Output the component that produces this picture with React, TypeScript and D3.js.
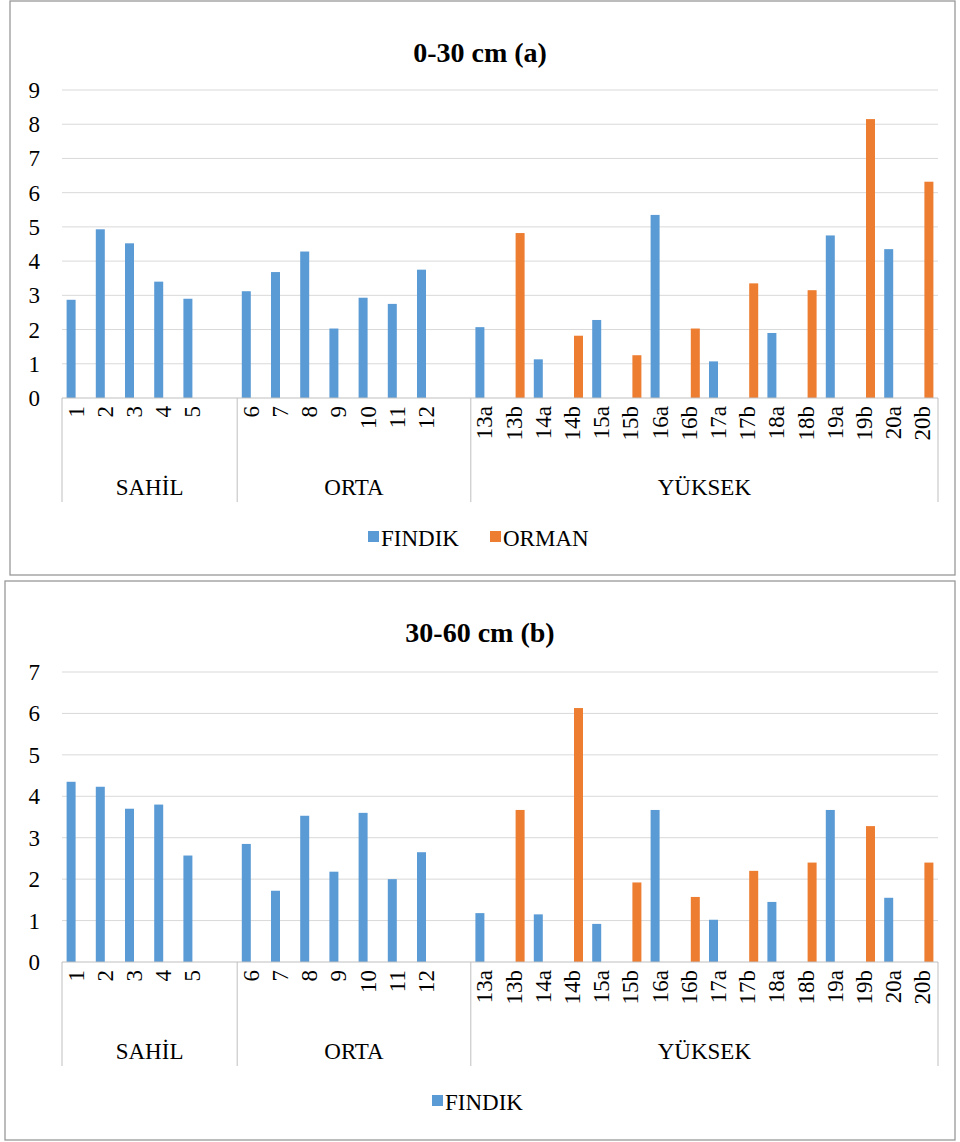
import React from 'react';
import * as d3 from 'd3';

const categories = ['1','2','3','4','5','', '6','7','8','9','10','11','12','', '13a','13b','14a','14b','15a','15b','16a','16b','17a','17b','18a','18b','19a','19b','20a','20b'];
const groups = [
  { name: 'SAHİL', from: 0, to: 6 },
  { name: 'ORTA', from: 6, to: 14 },
  { name: 'YÜKSEK', from: 14, to: 30 },
];
// values per category (null = no bar)
const findikA = [2.87,4.93,4.52,3.4,2.9,null,3.12,3.68,4.28,2.03,2.93,2.75,3.75,null,2.07,null,1.13,null,2.28,null,5.35,null,1.07,null,1.9,null,4.75,null,4.35,null];
const ormanA = [null,null,null,null,null,null,null,null,null,null,null,null,null,null,null,4.82,null,1.82,null,1.25,null,2.03,null,3.35,null,3.15,null,8.15,null,6.32];
const findikB = [4.35,4.23,3.7,3.8,2.57,null,2.85,1.72,3.53,2.18,3.6,2.0,2.65,null,1.18,null,1.15,null,0.92,null,3.67,null,1.02,null,1.45,null,3.67,null,1.55,null];
const ormanB = [null,null,null,null,null,null,null,null,null,null,null,null,null,null,null,3.67,null,6.13,null,1.92,null,1.57,null,2.2,null,2.4,null,3.28,null,2.4];
const ticksA = d3.range(0, 10);
const ticksB = d3.range(0, 8);

const BLUE = '#5B9BD5';
const ORANGE = '#ED7D31';
const FONT = "'Liberation Serif', 'DejaVu Serif', serif";

type PanelProps = {
  top: number; left: number; right: number; bottom: number;
  title: string; yTop: number; y0: number; ticks: number[];
  findik: (number | null)[]; orman: (number | null)[];
  legend: { label: string; color: string }[];
};

function Panel(p: PanelProps) {
  const x = d3.scaleBand().domain(categories.map((_, i) => String(i))).range([62, 938]);
  const y = d3.scaleLinear().domain([0, d3.max(p.ticks)!]).range([p.y0, p.yTop]);
  const bw = 9;
  const bars = (vals: (number | null)[], color: string, off: number) =>
    vals.map((v, i) => v == null ? null : (
      <rect key={color + i} x={x(String(i))! + x.bandwidth() / 2 + off} y={y(v)} width={bw} height={y(0) - y(v)} fill={color} />
    ));
  const T = (props: any) => <text fontFamily={FONT} fontWeight={400} fontStyle="normal" {...props} />;
  return (
    <g>
      <rect x={p.left} y={p.top} width={p.right - p.left} height={p.bottom - p.top} fill="white" stroke="#999" strokeWidth={1.3} />
      <T x={480} y={p.top + 61} textAnchor="middle" fontWeight={700} fontSize={28}>{p.title}</T>
      {p.ticks.map(t => (
        <g key={t}>
          {t > 0 && <line x1={62} x2={938} y1={y(t)} y2={y(t)} stroke="#d9d9d9" strokeWidth={1} />}
          <T x={40} y={y(t) + 8} textAnchor="end" fontSize={23}>{t}</T>
        </g>
      ))}
      {bars(p.findik, BLUE, -bw - 1)}
      {bars(p.orman, ORANGE, 1)}
      <line x1={62} x2={938} y1={p.y0} y2={p.y0} stroke="#bfbfbf" />
      {[0, 6, 14, 30].map(i => {
        const xx = i === 30 ? 938 : x(String(i))!;
        return <line key={i} x1={xx} x2={xx} y1={p.y0} y2={p.y0 + 104} stroke="#bfbfbf" />;
      })}
      {categories.map((c, i) => (
        <T key={i} transform={`translate(${x(String(i))! + x.bandwidth() / 2 + 7},${p.y0 + 8}) rotate(-90)`}
          textAnchor="end" fontSize={23}>{c}</T>
      ))}
      {groups.map(g => {
        const x1 = x(String(g.from))!;
        const x2 = g.to === 30 ? 938 : x(String(g.to))!;
        return <T key={g.name} x={(x1 + x2) / 2} y={p.y0 + 97} textAnchor="middle" fontSize={23}>{g.name}</T>;
      })}
      {p.legend.map((l, i) => {
        const lx = p.legend.length === 1 ? 432 : 368 + i * 122;
        return (
          <g key={l.label}>
            <rect x={lx} y={p.y0 + 133} width={11} height={11} fill={l.color} />
            <T x={lx + 13} y={p.y0 + 148} fontSize={23}>{l.label}</T>
          </g>
        );
      })}
    </g>
  );
}

export default function App() {
  return (
    <svg width={960} height={1142} style={{ position: 'absolute', left: 0, top: 0 }}>
      <rect width={960} height={1142} fill="white" />
      <Panel top={1} left={10} right={955} bottom={575} title="0-30 cm  (a)" yTop={90} y0={398} ticks={ticksA}
        findik={findikA} orman={ormanA} legend={[{ label: 'FINDIK', color: BLUE }, { label: 'ORMAN', color: ORANGE }]} />
      <Panel top={581} left={5} right={955} bottom={1140} title="30-60 cm (b)" yTop={672} y0={962} ticks={ticksB}
        findik={findikB} orman={ormanB} legend={[{ label: 'FINDIK', color: BLUE }]} />
    </svg>
  );
}
